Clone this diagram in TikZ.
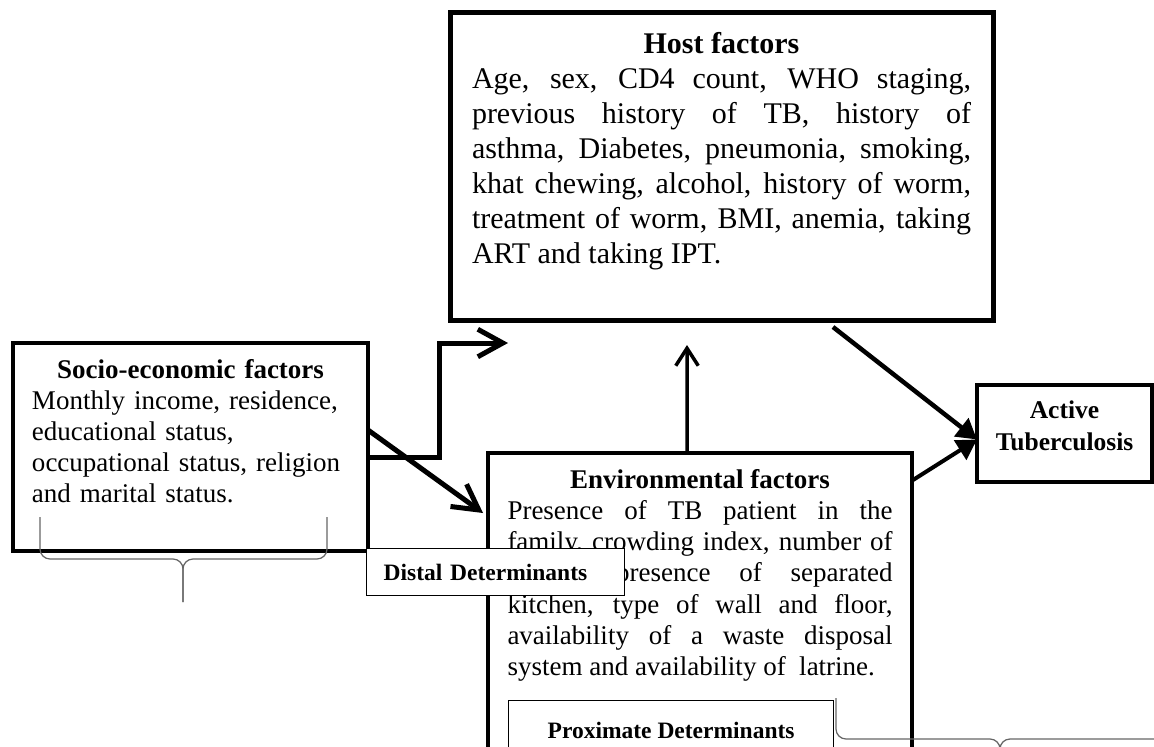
\documentclass[tikz,border=0pt]{standalone}
\usepackage{fontspec}
\setmainfont{Liberation Serif}
\usetikzlibrary{arrows.meta,positioning,calc}
\tikzstyle{factorbox} = [rectangle, draw, line width=1.6pt, outer sep=0pt,
    inner sep=0pt, anchor=north west]
\tikzstyle{factortext} = [inner sep=0pt, align=justify, execute at begin node=\sloppy]
\tikzstyle{detbox} = [rectangle, draw, fill=white, line width=0.5pt, anchor=north west,
    font=\fontsize{9.4}{11}\selectfont\bfseries]
\tikzstyle{heavyline} = [draw, line width=2pt, -{Straight Barb[length=10pt,width=11pt]}]
\tikzstyle{tbline} = [draw, line width=1.8pt, -{Triangle[length=8pt,width=9pt]}]
\tikzstyle{braceline} = [draw=black!60, line width=0.5pt, rounded corners=4pt]
\newcommand{\boxtitle}[1]{{\centering\bfseries #1\par}}

\begin{document}
\begin{tikzpicture}[x=0.4pt, y=-0.4pt]
  \clip (0,0) rectangle (1154,747);
   % Place boxes
    \node [factorbox, line width=2pt, minimum width=217.2pt, minimum height=123.2pt] (host) at (450,12) {};
    \node [factorbox, minimum width=142pt, minimum height=83.2pt] (socio) at (13,343) {};
    \node [factorbox, minimum width=169.6pt, minimum height=160pt] (env) at (488,453) {};
    \node [factorbox, minimum width=70pt, minimum height=38.8pt] (tb) at (977,385) {};
   % Place texts
    \node [factortext, text width=199.6pt, font=\fontsize{12}{14}\selectfont,
      below=7.8pt of host.north] (hosttext) {\boxtitle{Host factors}
      Age, sex, CD4 count, WHO staging,\linebreak previous history of TB, history of\linebreak
      asthma, Diabetes, pneumonia, smoking,\linebreak khat chewing, alcohol, history of worm,\linebreak
      treatment of worm, BMI, anemia, taking\linebreak ART and taking IPT.};
    \node [factortext, align=left, text width=126.8pt, font=\fontsize{10.8}{12.4}\selectfont,
      below=6.2pt of socio.north] (sociotext) {\boxtitle{Socio-economic factors}
      Monthly income, residence,\\ educational status,\\ occupational status, religion\\
      and marital status.};
    \node [factortext, text width=154pt, font=\fontsize{10.8}{12.5}\selectfont,
      below=6.2pt of env.north] (envtext) {\boxtitle{Environmental factors}
      Presence of TB patient in the\linebreak family, crowding index, number of\linebreak
      rooms, presence of separated\linebreak kitchen, type of wall and floor,\linebreak
      availability of a waste disposal\linebreak system and availability of\ \ latrine.};
    \node [factortext, align=center, font=\fontsize{10.2}{12.8}\selectfont\bfseries,
      below=6.2pt of tb.north] (tbtext) {Active\\Tuberculosis};
   % Draw arrows
    \path [heavyline] ($(socio.east)+(0,10)$) -- ++(71,0) |- ($(host.south west)+(58,23)$);
    \path [heavyline] ($(socio.east)+(0,-17)$) -- ($(env.north west)+(-5,60)$);
    \path [draw, line width=1.4pt, -{Straight Barb[length=7pt,width=9pt]}]
      ($(env.north)+(-13,0)$) -- ($(host.south)+(-34.5,25)$);
    \path [tbline] ($(host.south)+(111.5,7)$) -- ($(tb.west)+(0,6)$);
    \path [tbline, line width=1.6pt] ($(env.north east)+(1,27)$) -- ($(tb.west)+(0,6)$);
   % Determinant labels and braces
    \node [detbox, text width=89.6pt, inner xsep=6.8pt, align=left, minimum height=18.8pt]
      (distal) at (366,548) {Distal Determinants};
    \node [detbox, minimum width=130pt, minimum height=24pt] (proximate) at (508,700)
      {Proximate Determinants};
    \draw [braceline] (40,517) |- (183,559) -- (183,602);
    \draw [braceline] (327,517) |- (183,559) -- (183,602);
    \draw [braceline] (836,698) |- (1000,739) -- (1000,760);
    \draw [braceline] (1164,698) |- (1000,739) -- (1000,760);
\end{tikzpicture}
\end{document}
